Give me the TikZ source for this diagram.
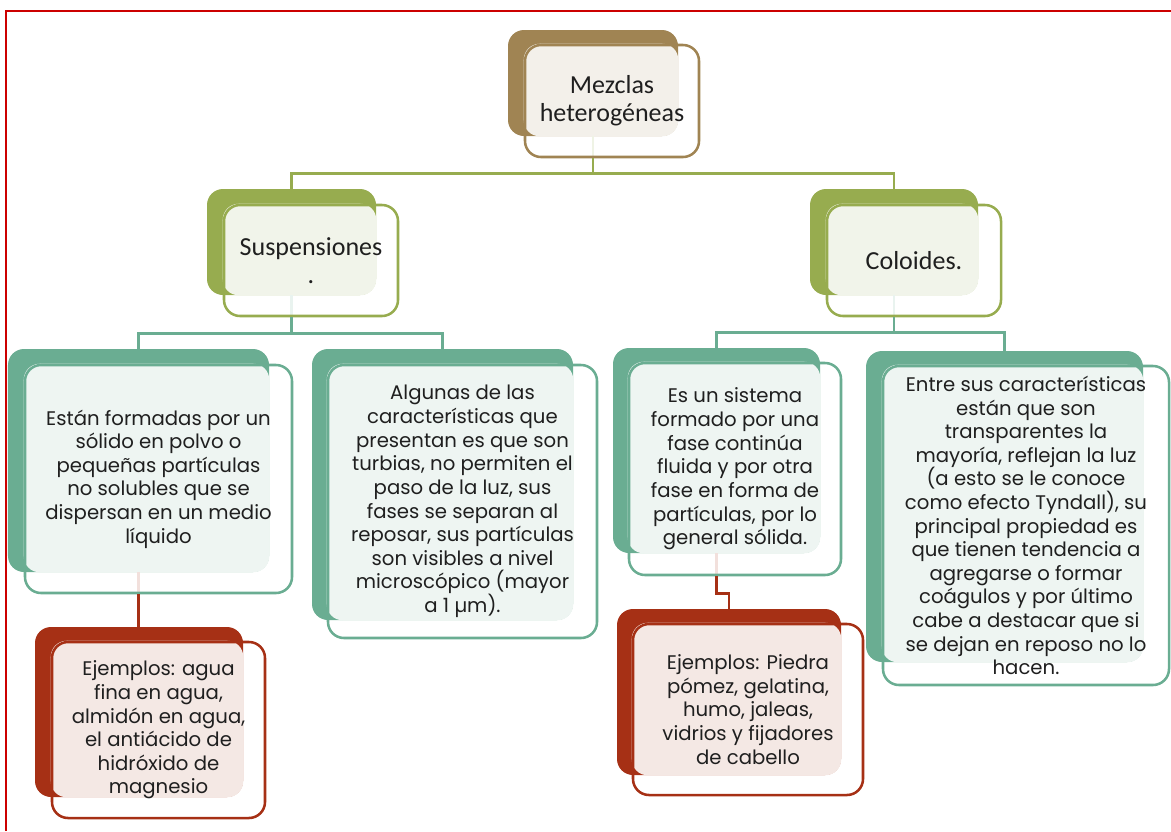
\documentclass[tikz,border=0pt]{standalone}
\usepackage{fontspec}
\setmainfont{Poppins}
\newfontfamily\calib{Carlito}
\usepackage{xcolor}
\usepackage{tikz}
\usetikzlibrary{backgrounds}

\definecolor{brownc}{HTML}{A08453}
\definecolor{brownlt}{HTML}{F3F0EA}
\definecolor{olivec}{HTML}{97AC4F}
\definecolor{olivelt}{HTML}{F1F4EA}
\definecolor{tealc}{HTML}{6AAD92}
\definecolor{teallt}{HTML}{EEF5F2}
\definecolor{redc}{HTML}{A63015}
\definecolor{redlt}{HTML}{F4E8E4}
\definecolor{txt}{HTML}{1F1F1F}
\definecolor{frame}{HTML}{CC0000}

\begin{document}
\begin{tikzpicture}[
    front/.style={draw=#1, line width=1.8pt, rounded corners=0.4cm, inner sep=0pt, align=center, text=txt},
    back/.style={fill=#1, rounded corners=0.4cm, inner sep=0pt},
    link/.style={draw=#1, line width=1.8pt},
    head/.style={font=\calib\fontsize{18.5}{20}\selectfont},
    body/.style={font=\fontsize{14}{16.8}\selectfont}
  ]
        \useasboundingbox (0,0) rectangle (29.275,-20.775);
        % Page frame
        \draw[frame, line width=1.2pt] (0.15,-20.775) -- (0.15,-0.275) -- (29.275,-0.275);

        % Top
        \node[front=brownc, head, minimum width=4.35cm, minimum height=2.8cm] (mez) at (15.3,-2.525) {Mezclas\\heterogéneas};

        % Level 1
        \node[front=olivec, head, minimum width=4.35cm, minimum height=2.775cm] (susp) at (7.775,-6.5125) {Suspensiones\\.};
        \node[front=olivec, head, minimum width=4.35cm, minimum height=2.775cm] (col) at (22.85,-6.5125) {Coloides.};

        % Level 2
        \node[front=tealc, body, minimum width=6.675cm, minimum height=5.7cm] (form) at (3.9625,-11.975) {Están formadas por un\\sólido en polvo o\\pequeñas partículas\\no solubles que se\\dispersan en un medio\\líquido};
        \node[front=tealc, body, minimum width=6.725cm, minimum height=6.825cm] (carsus) at (11.5625,-12.5375) {Algunas de las\\características que\\presentan es que son\\turbias, no permiten el\\paso de la luz, sus\\fases se separan al\\reposar, sus partículas\\son visibles a nivel\\microscópico (mayor\\a 1 µm).};
        \node[front=tealc, body, minimum width=5.3cm, minimum height=5.3cm] (sist) at (18.375,-11.725) {Es un sistema\\formado por una\\fase continúa\\fluida y por otra\\fase en forma de\\partículas, por lo\\general sólida.};
        \node[front=tealc, body, minimum width=7.15cm, minimum height=7.975cm] (carcol) at (25.65,-13.1375) {Entre sus características\\están que son\\transparentes la\\mayoría, reflejan la luz\\(a esto se le conoce\\como efecto Tyndall), su\\principal propiedad es\\que tienen tendencia a\\agregarse o formar\\coágulos y por último\\cabe a destacar que si\\se dejan en reposo no lo\\hacen.};

        % Examples
        \node[front=redc, body, minimum width=5.325cm, minimum height=4.4cm] (ejsus) at (3.9625,-18.25) {Ejemplos: agua\\fina en agua,\\almidón en agua,\\el antiácido de\\hidróxido de\\magnesio};
        \node[front=redc, body, minimum width=5.75cm, minimum height=4.275cm] (ejcol) at (18.7,-17.7375) {Ejemplos: Piedra\\pómez, gelatina,\\humo, jaleas,\\vidrios y fijadores\\de cabello};

        % Back plates and light fills
        \begin{scope}[on background layer]
          \node[back=brownc, minimum width=4.25cm, minimum height=2.65cm] (mez-b) at (14.825,-2.075) {};
          \fill[brownlt, rounded corners=0.4cm] (mez.north west) rectangle (mez-b.south east);
          \node[back=olivec, minimum width=4.225cm, minimum height=2.65cm] (susp-b) at (7.2875,-6.05) {};
          \fill[olivelt, rounded corners=0.4cm] (susp.north west) rectangle (susp-b.south east);
          \node[back=olivec, minimum width=4.2cm, minimum height=2.65cm] (col-b) at (22.35,-6.05) {};
          \fill[olivelt, rounded corners=0.4cm] (col.north west) rectangle (col-b.south east);
          \node[back=tealc, minimum width=6.525cm, minimum height=5.575cm] (form-b) at (3.4625,-11.5125) {};
          \fill[teallt, rounded corners=0.4cm] (form.north west) rectangle (form-b.south east);
          \node[back=tealc, minimum width=6.525cm, minimum height=6.775cm] (carsus-b) at (11.0625,-12.1125) {};
          \fill[teallt, rounded corners=0.4cm] (carsus.north west) rectangle (carsus-b.south east);
          \node[back=tealc, minimum width=5.175cm, minimum height=5.125cm] (sist-b) at (17.9125,-11.2625) {};
          \fill[teallt, rounded corners=0.4cm] (sist.north west) rectangle (sist-b.south east);
          \node[back=tealc, minimum width=6.925cm, minimum height=7.775cm] (carcol-b) at (25.1125,-12.6625) {};
          \fill[teallt, rounded corners=0.4cm] (carcol.north west) rectangle (carcol-b.south east);
          \node[back=redc, minimum width=5.2cm, minimum height=4.25cm] (ejsus-b) at (3.475,-17.8) {};
          \fill[redlt, rounded corners=0.4cm] (ejsus.north west) rectangle (ejsus-b.south east);
          \node[back=redc, minimum width=5.6cm, minimum height=4.15cm] (ejcol-b) at (18.225,-17.3) {};
          \fill[redlt, rounded corners=0.4cm] (ejcol.north west) rectangle (ejcol-b.south east);
          % faint stubs under the frames
          \draw[link=olivec!15] (mez-b.south) -- (mez-b.south |- mez.south);
          \draw[link=tealc!15] (susp-b.south) -- (susp-b.south |- susp.south);
          \draw[link=tealc!15] (col-b.south) -- (col-b.south |- col.south);
          \draw[link=redc!15] (form-b.south) -- (form-b.south |- form.south);
          \draw[link=redc!15] (sist-b.south) -- (sist-b.south |- sist.south);
        \end{scope}

        % Connectors
        \draw[link=olivec] (mez-b.south |- mez.south) -- ++(0,-0.375) -| (susp-b.north);
        \draw[link=olivec] (mez-b.south |- mez.south) -- ++(0,-0.375) -| (col-b.north);
        \draw[link=tealc] (susp-b.south |- susp.south) -- ++(0,-0.4) -| (form-b.north);
        \draw[link=tealc] (susp-b.south |- susp.south) -- ++(0,-0.4) -| (carsus-b.north);
        \draw[link=tealc] (col-b.south |- col.south) -- ++(0,-0.375) -| (sist-b.north);
        \draw[link=tealc] (col-b.south |- col.south) -- ++(0,-0.375) -| (carcol-b.north);
        \draw[link=redc] (form-b.south |- form.south) -- (form-b.south |- ejsus-b.north);
        \draw[link=redc] (sist-b.south |- sist.south) -- ++(0,-0.425) -| (ejcol-b.north);
\end{tikzpicture}
\end{document}
